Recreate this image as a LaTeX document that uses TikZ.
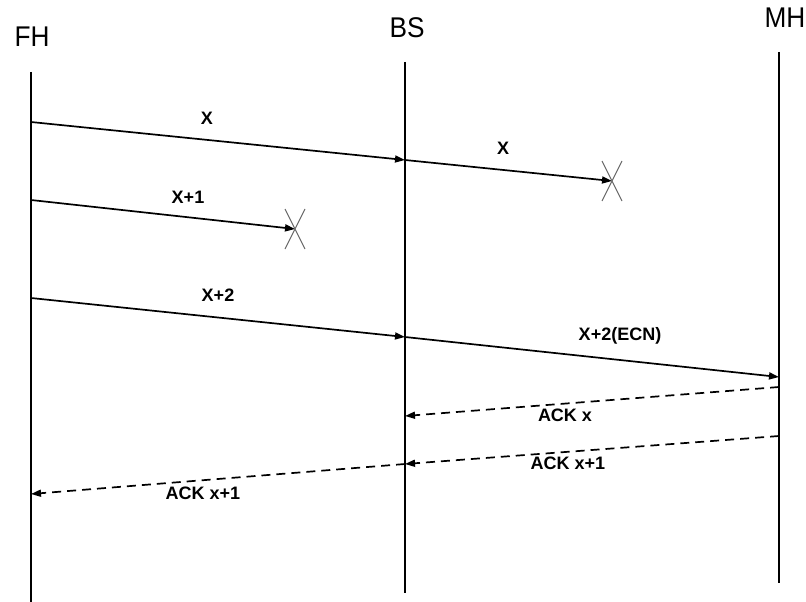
\documentclass[tikz,border=0pt]{standalone}
\usepackage{fontspec}
\setmainfont{Liberation Sans}
\newfontfamily\headfont[FakeStretch=0.92]{Liberation Sans}
\usetikzlibrary{arrows.meta,calc}
\begin{document}
\begin{tikzpicture}[x=1pt,y=-1pt,
  life/.style={line width=2.8pt},
  msg/.style={line width=1.7pt,-{Triangle[length=10pt,width=7pt]}},
  ack/.style={msg,dash pattern=on 9pt off 6pt},
  lbl/.style={font=\fontsize{18}{20}\selectfont\bfseries,inner sep=0pt},
  head/.style={font=\headfont\fontsize{28.5}{30}\selectfont,inner sep=0pt},
  lossx/.style={draw=gray!80!black,line width=1pt}]
\useasboundingbox (0,0) rectangle (806,602);
% headers
\node[head] (fh) at (32,36.5) {FH};
\node[head] (bs) at (407,27.5) {BS};
\node[head] (mh) at (785,17.5) {MH};
% lifelines
\coordinate (fht) at (31,72); \coordinate (fhb) at (31,602);
\coordinate (bst) at (405,62); \coordinate (bsb) at (405,593);
\coordinate (mht) at (779,52); \coordinate (mhb) at (779,583);
\draw[life] (fht) -- (fhb);
\draw[life] (bst) -- (bsb);
\draw[life] (mht) -- (mhb);
% message points
\coordinate (a1) at (31,122); \coordinate (b1) at (405,160);
\coordinate (l1) at (612,181);
\coordinate (a2) at (31,200); \coordinate (l2) at (295,229);
\coordinate (a3) at (31,298); \coordinate (b3) at (405,337);
\coordinate (m3) at (779,377);
\coordinate (m4) at (779,387); \coordinate (b4) at (405,416);
\coordinate (m5) at (779,436); \coordinate (b5) at (405,464);
\coordinate (a5) at (31,494);
\draw[msg] (a1) -- (b1);
\draw[msg] (b1) -- (l1);
\draw[msg] (a2) -- (l2);
\draw[msg] (a3) -- (b3);
\draw[msg] (b3) -- (m3);
\draw[ack] (m4) -- (b4);
\draw[ack] (m5) -- (b5);
\draw[ack] (b5) -- (a5);
% loss crosses
\draw[lossx] ($(l1)+(-10,-20)$) -- ($(l1)+(10,20)$) ($(l1)+(10,-20)$) -- ($(l1)+(-10,20)$);
\draw[lossx] ($(l2)+(-10,-20)$) -- ($(l2)+(10,20)$) ($(l2)+(10,-20)$) -- ($(l2)+(-10,20)$);
% labels
\node[lbl] (t1) at (207,118) {X};
\node[lbl] (t2) at (503,148) {X};
\node[lbl] (t3) at (188,197) {X+1};
\node[lbl] (t4) at (218,295) {X+2};
\node[lbl] (t5) at (620,336) {X+2(ECN)};
\node[lbl] (t6) at (565,415) {ACK x};
\node[lbl] (t7) at (568,463) {ACK x+1};
\node[lbl] (t8) at (203,493) {ACK x+1};
\end{tikzpicture}
\end{document}
